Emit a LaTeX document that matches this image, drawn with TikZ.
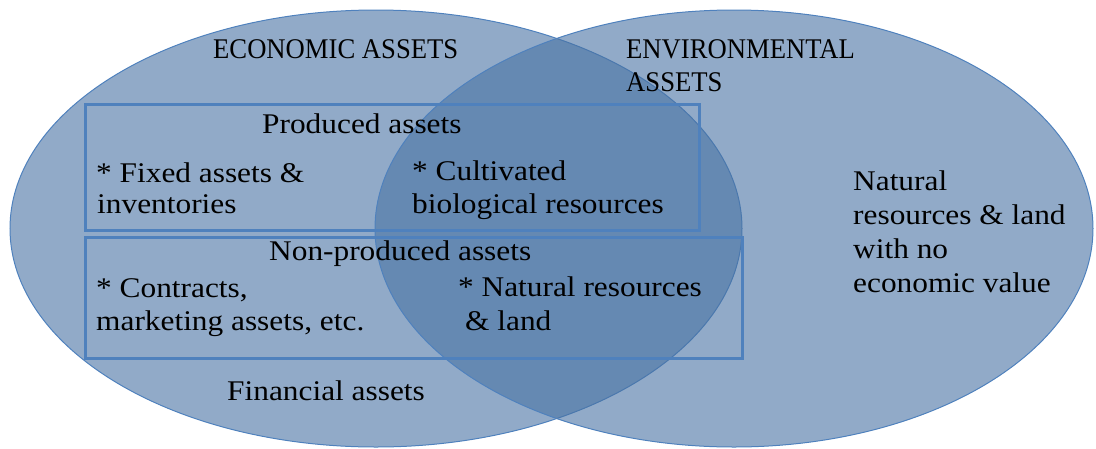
\documentclass[tikz,border=0pt]{standalone}
\usepackage{fontspec}
\setmainfont[FakeStretch=1.1]{Liberation Serif}
\newfontfamily\capsfont[FakeStretch=0.935]{Liberation Serif}
\usetikzlibrary{shapes.geometric}
\definecolor{vennfill}{RGB}{72,114,163}
\definecolor{vennline}{RGB}{79,129,189}
\definecolor{boxline}{RGB}{79,129,189}
\begin{document}
\begin{tikzpicture}[x=1pt,y=-1pt,
  venn/.style={ellipse, draw=vennline, line width=1pt, fill=vennfill, fill opacity=0.6, draw opacity=1, inner sep=0pt},
  assetbox/.style={draw=boxline, line width=3pt, inner sep=0pt, anchor=north west},
  lbl/.style={anchor=base west, inner sep=0pt, font=\fontsize{28.5}{33}\selectfont, text=black},
  caplbl/.style={lbl, font=\capsfont\fontsize{28.5}{33}\selectfont},
  ]
\useasboundingbox (0,0) rectangle (1096,448);
\node[venn, minimum width=732pt, minimum height=437pt] (econ) at (376,228.5) {};
\node[venn, minimum width=718pt, minimum height=437pt] (env) at (734,228.5) {};
\node[assetbox, minimum width=614pt, minimum height=126pt] (prodbox) at (84,103) {};
\node[assetbox, minimum width=657pt, minimum height=121pt] (nonprodbox) at (84,236) {};
\node[caplbl] (t1) at (213,58) {ECONOMIC ASSETS};
\node[caplbl] (t2) at (626,58) {ENVIRONMENTAL};
\node[caplbl] (t3) at (626,91) {ASSETS};
\node[lbl] (t4) at (262,133) {Produced assets};
\node[lbl] (t5) at (96,182) {* Fixed assets \&};
\node[lbl] (t6) at (97,213) {inventories};
\node[lbl] (t7) at (412,180) {* Cultivated};
\node[lbl] (t8) at (412,213) {biological resources};
\node[lbl] (t9) at (269,260) {Non-produced assets};
\node[lbl] (t10) at (96,297) {* Contracts,};
\node[lbl] (t11) at (96,330) {marketing assets, etc.};
\node[lbl] (t12) at (458,296) {* Natural resources};
\node[lbl] (t13) at (465,330) {\& land};
\node[lbl] (t14) at (227,400) {Financial assets};
\node[lbl] (t15) at (853,190) {Natural};
\node[lbl] (t16) at (853,224) {resources \& land};
\node[lbl] (t17) at (853,258) {with no};
\node[lbl] (t18) at (853,292) {economic value};
\end{tikzpicture}
\end{document}
